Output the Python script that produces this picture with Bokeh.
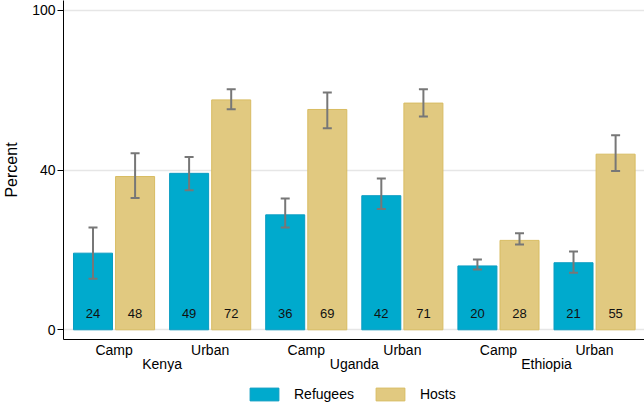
from bokeh.plotting import figure
from bokeh.layouts import column
from bokeh.models import (ColumnDataSource, FixedTicker, LinearAxis, Whisker, TeeHead,
                          Legend, LegendItem, Range1d)
from bokeh.core.properties import value
from bokeh.embed import file_html
from bokeh.resources import INLINE

countries = ["Kenya", "Uganda", "Ethiopia"]
settings = ["Camp", "Urban"]
refugees = [24, 49, 36, 42, 20, 21]
hosts = [48, 72, 69, 71, 28, 55]
ref_lower = [16.0, 43.7, 32.0, 37.8, 18.9, 17.9]
ref_upper = [32.0, 54.1, 41.1, 47.4, 22.0, 24.5]
host_lower = [41.3, 69.1, 63.1, 66.8, 26.7, 49.7]
host_upper = [55.3, 75.3, 74.3, 75.3, 30.2, 60.9]
y_ticks = [0, 50, 100]
y_tick_labels = ["0", "40", "100"]
series_names = ["Refugees", "Hosts"]

FONT = "Liberation Sans"
REF_FILL, REF_LINE = "#00AACD", "#0A9CC2"
HOST_FILL, HOST_LINE = "#E1C980", "#D8BC62"
ERR = "#777777"

n = len(refugees)
groups = list(range(n))
off, bw = 0.219, 0.406

ref_src = ColumnDataSource(dict(
    x=[g - off for g in groups], top=refugees, lab=[str(v) for v in refugees],
    lo=ref_lower, hi=ref_upper, ly=[5] * n))
host_src = ColumnDataSource(dict(
    x=[g + off for g in groups], top=hosts, lab=[str(v) for v in hosts],
    lo=host_lower, hi=host_upper, ly=[5] * n))

p = figure(frame_width=582, frame_height=339, output_backend="svg", toolbar_location=None,
           x_range=Range1d(-0.526, 5.53), y_range=Range1d(-3.04, 103.13),
           min_border_left=62, min_border_right=0, min_border_top=0, min_border_bottom=36)
p.outline_line_color = None
p.background_fill_color = "white"
p.border_fill_color = "white"

p.vbar(x="x", top="top", width=bw, bottom=0, source=ref_src,
       fill_color=REF_FILL, line_color=REF_LINE, line_width=1)
p.vbar(x="x", top="top", width=bw, bottom=0, source=host_src,
       fill_color=HOST_FILL, line_color=HOST_LINE, line_width=1)

for src in (ref_src, host_src):
    w = Whisker(base="x", lower="lo", upper="hi", source=src, level="overlay",
                line_color=ERR, line_width=2,
                upper_head=TeeHead(size=9, line_color=ERR, line_width=2),
                lower_head=TeeHead(size=9, line_color=ERR, line_width=2))
    p.add_layout(w)
    p.text(x="x", y="ly", text="lab", source=src, text_align="center",
           text_baseline="middle", text_font=value(FONT), text_font_size="13px",
           text_color="#111111")

# y axis
p.yaxis.ticker = FixedTicker(ticks=y_ticks)
p.yaxis.major_label_overrides = {t: l for t, l in zip(y_ticks, y_tick_labels)}
p.yaxis.axis_label = "Percent"
p.yaxis.axis_label_text_font = FONT
p.yaxis.axis_label_text_font_style = "normal"
p.yaxis.axis_label_text_font_size = "16px"
p.yaxis.axis_label_text_color = "black"
p.yaxis.axis_label_standoff = 9
p.yaxis.major_label_text_font = FONT
p.yaxis.major_label_text_font_size = "14px"
p.yaxis.major_label_text_color = "black"
p.yaxis.major_tick_out = 6
p.yaxis.major_tick_in = 0
p.yaxis.minor_tick_line_color = None
p.yaxis.major_label_standoff = 2
p.yaxis.axis_line_color = "black"
p.yaxis.major_tick_line_color = "black"
p.ygrid.ticker = FixedTicker(ticks=y_ticks)
p.ygrid.grid_line_color = "#E6E6E6"
p.ygrid.grid_line_width = 1.5
p.xgrid.grid_line_color = None

# x axis: setting labels
p.xaxis.ticker = FixedTicker(ticks=groups)
p.xaxis.major_label_overrides = {g: settings[g % 2] for g in groups}
p.xaxis.major_label_text_font = FONT
p.xaxis.major_label_text_font_size = "14px"
p.xaxis.major_label_text_color = "black"
p.xaxis.major_tick_line_color = None
p.xaxis.minor_tick_line_color = None
p.xaxis.major_tick_out = 0
p.xaxis.major_tick_in = 0
p.xaxis.axis_line_color = "black"
p.xaxis.major_label_standoff = 2

# second x axis: countries
cticks = [2 * i + 0.5 for i in range(len(countries))]
ax2 = LinearAxis(ticker=FixedTicker(ticks=cticks),
                 major_label_overrides={t: c for t, c in zip(cticks, countries)},
                 axis_line_color=None, major_tick_line_color=None, minor_tick_line_color=None,
                 major_tick_out=0, major_tick_in=0,
                 major_label_text_font=FONT, major_label_text_font_size="14px",
                 major_label_text_color="black", major_label_standoff=-5)
p.add_layout(ax2, "below")

# legend strip (legend renderers hold points outside the visible range)
lf = figure(frame_width=644, frame_height=31, output_backend="svg", toolbar_location=None,
            x_range=Range1d(0, 1), y_range=Range1d(0, 1), x_axis_type=None, y_axis_type=None,
            min_border_left=0, min_border_right=0, min_border_top=0, min_border_bottom=0)
lf.outline_line_color = None
lf.xgrid.grid_line_color = None
lf.ygrid.grid_line_color = None
lr1 = lf.vbar(x=[5], top=[5], bottom=4, width=0.1,
              fill_color=REF_FILL, line_color=REF_LINE, line_width=1)
lr2 = lf.vbar(x=[5], top=[5], bottom=4, width=0.1,
              fill_color=HOST_FILL, line_color=HOST_LINE, line_width=1)
legend = Legend(items=[LegendItem(label=series_names[0], renderers=[lr1]),
                       LegendItem(label=series_names[1], renderers=[lr2])],
                orientation="horizontal", location=(246, 4),
                glyph_width=36, glyph_height=16, label_standoff=12, spacing=18,
                label_text_font=FONT, label_text_font_size="14px",
                label_text_color="black",
                border_line_color=None, background_fill_alpha=0,
                padding=4, margin=0)
lf.add_layout(legend)

open("out.html", "w").write(file_html(column(p, lf, spacing=0), INLINE))
